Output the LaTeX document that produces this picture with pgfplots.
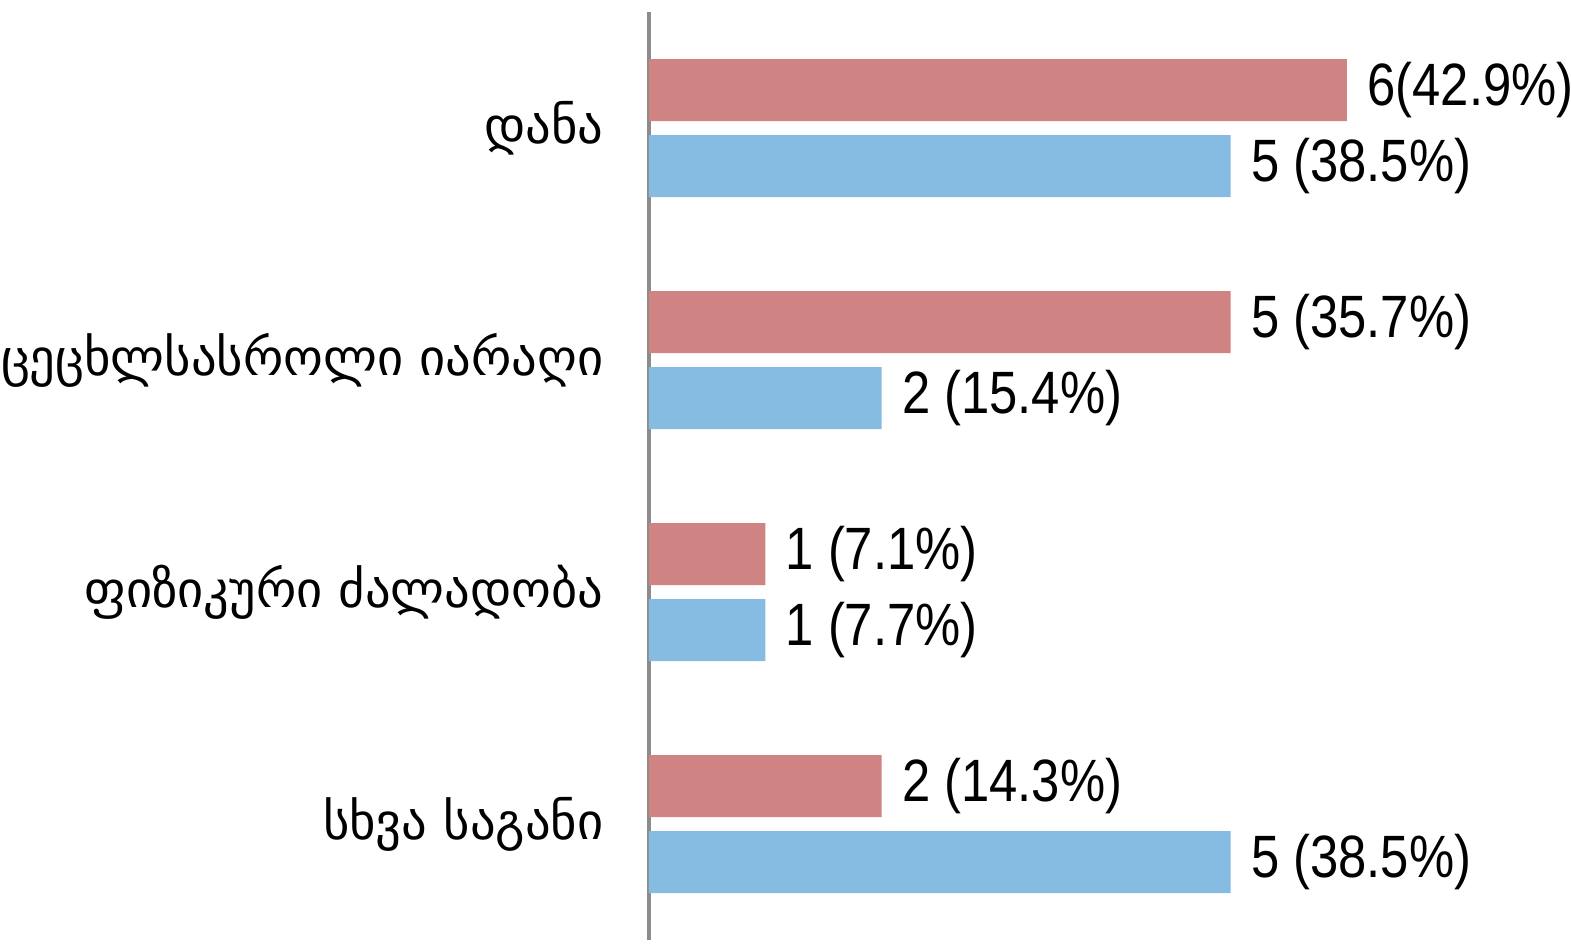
\documentclass[border=0pt]{standalone}
\usepackage{pgfplots}
\pgfplotsset{compat=1.18}
\usepackage{fontspec}
\setmainfont{DejaVu Sans}
\newfontfamily\numfont[FakeStretch=0.85]{Liberation Sans}
\definecolor{redbar}{RGB}{208,131,131}
\definecolor{bluebar}{RGB}{134,187,226}
\definecolor{axgray}{RGB}{140,140,140}

\begin{document}
\begin{tikzpicture}
\begin{axis}[
  at={(0,0)}, anchor=south west,
  width=6.98cm, height=9.28cm, scale only axis,
  xbar, bar width=0.62cm,
  xmin=0, xmax=6,
  ymin=-0.5, ymax=3.5,
  axis x line=none,
  axis y line*=left,
  y axis line style={draw=axgray, line width=1pt, -},
  ytick={0,1,2,3},
  yticklabels={სხვა საგანი, ფიზიკური ძალადობა, ცეცხლსასროლი იარაღი, დანა},
  ytick style={draw=none},
  yticklabel style={font=\fontsize{14.4}{17}\selectfont, xshift=-0.18cm},
  nodes near coords,
  point meta=explicit symbolic,
  every node near coord/.append style={font=\numfont\fontsize{17}{20}\selectfont, anchor=west, xshift=0.08cm, text=black},
  clip=false,
]
% series 1 (red)
\addplot[xbar, bar shift=0.38cm, fill=redbar, draw=none] coordinates {
  (6,3) [6(42.9\%)]
  (5,2) [5 (35.7\%)]
  (1,1) [1 (7.1\%)]
  (2,0) [2 (14.3\%)]
};
% series 2 (blue)
\addplot[xbar, bar shift=-0.38cm, fill=bluebar, draw=none] coordinates {
  (5,3) [5 (38.5\%)]
  (2,2) [2 (15.4\%)]
  (1,1) [1 (7.7\%)]
  (5,0) [5 (38.5\%)]
};
\end{axis}
\pgfresetboundingbox
\useasboundingbox (-6.49,-0.03) rectangle (9.22,9.40);
\end{tikzpicture}
\end{document}
